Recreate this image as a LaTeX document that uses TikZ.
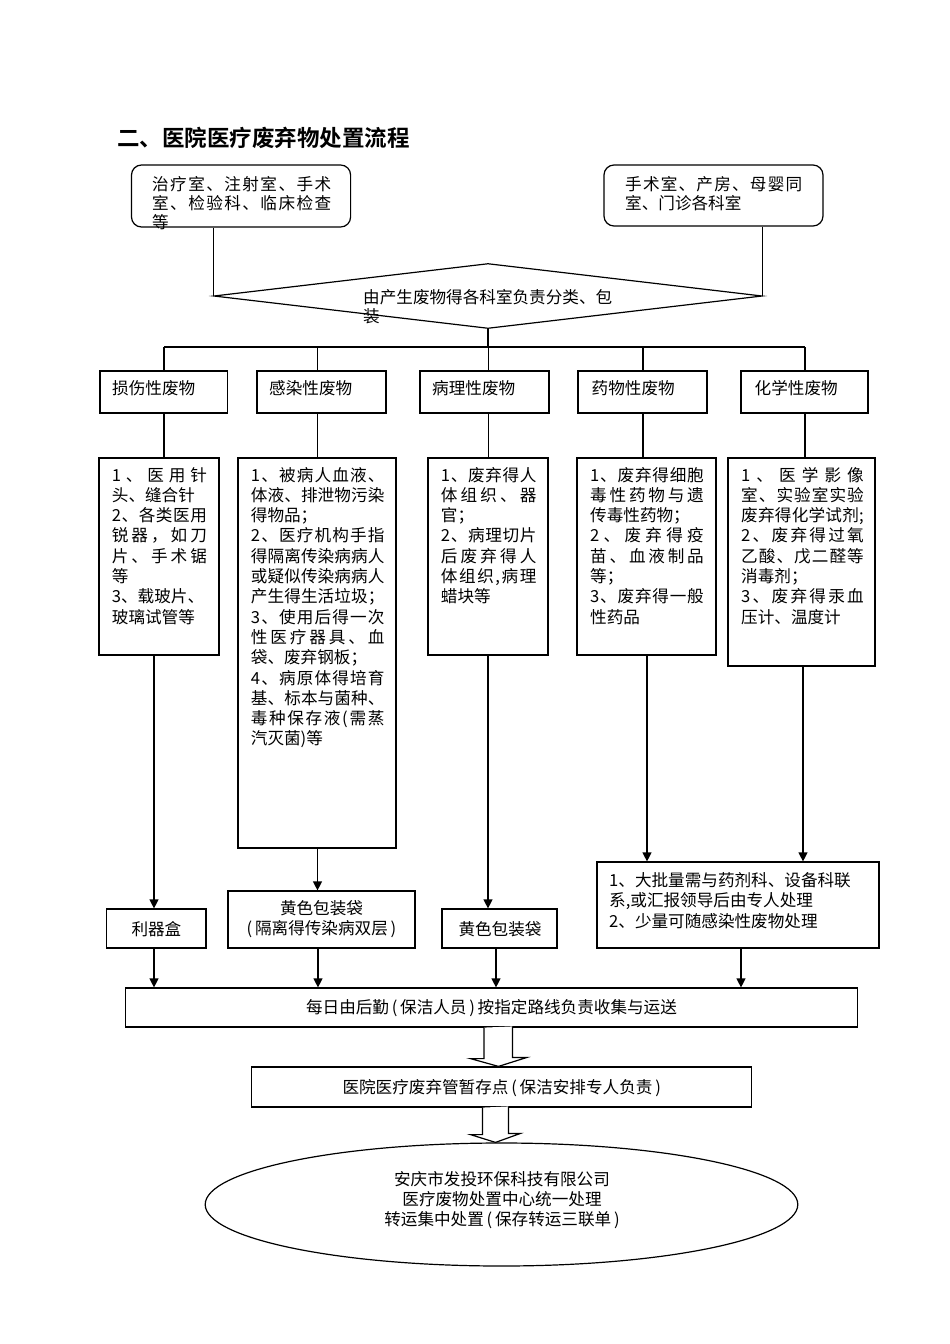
\documentclass[tikz,border=0pt]{standalone}
\usepackage{fontspec}
\setmainfont{Noto Sans CJK SC}
\newfontfamily\titlefont{Noto Sans CJK SC Bold}
\usetikzlibrary{arrows.meta,calc,fit,shapes.geometric}
\makeatletter
\def\spr@a#1#2{#1\ifx#2\@nil\expandafter\@gobble\else\hfil\expandafter\@firstofone\fi{\spr@a#2}}
\newcommand\spreadto[2]{\hbox to #1{\spr@a#2\@nil}}
\makeatother
\newcommand\txtlines[3][20.3pt]{\vtop{\baselineskip=#1\lineskiplimit=-\maxdimen\def\SP##1{\spreadto{#2}{##1}}\def\LF##1{\hbox{##1}}#3}}
\tikzset{
  ln/.style={line width=1.2pt},
  boxnode/.style={draw, line width=1.2pt, inner sep=0pt, rectangle},
  rbox/.style={boxnode, rounded corners=10pt},
  txt/.style={inner sep=0pt, anchor=base west, font=\fontsize{16.6}{20.3}\selectfont},
  ctxt/.style={inner sep=0pt, font=\fontsize{16.6}{20}\selectfont, align=center},
  arr/.style={line width=1.2pt, -{Triangle[length=9pt,width=9pt]}},
  hollow/.style={line width=1.2pt, fill=white},
}
\begin{document}
\begin{tikzpicture}[x=1pt,y=-1pt]
\useasboundingbox[fill=white] (0,0) rectangle (950,1344);

% title
\node[inner sep=0pt, anchor=base west, font=\titlefont\fontsize{22.5}{26}\selectfont] (title) at (117,146.5) {二、医院医疗废弃物处置流程};

% sources
\node[rbox, fit={(131.5,165) (350.6,227)}] (src1) {};
\node[txt] (src1t) at (152,190.5) {\txtlines[19pt]{179pt}{\SP{治疗室、注射室、手术}\SP{室、检验科、临床检查}\LF{等}}};
\node[rbox, fit={(604,165) (823,226)}] (src2) {};
\node[txt] (src2t) at (625,190.5) {\txtlines[19pt]{177pt}{\SP{手术室、产房、母婴同}\LF{室、门诊各科室}}};

% diamond
\node[diamond, draw, line width=1.2pt, inner sep=0pt, minimum width=548.5pt, minimum height=65pt] (dia) at (488,296) {};
\node[txt] (diat) at (363,303) {\txtlines[19.5pt]{250pt}{\LF{由产生废物得各科室负责分类、包}\LF{装}}};
\draw[ln] (dia.west |- src1.south) -- (dia.west);
\draw[ln] (dia.east |- src2.south) -- (dia.east);

% columns
\coordinate (xA) at (164,347);
\coordinate (xB) at (317.5,347);
\coordinate (xC) at (488.5,347);
\coordinate (xD) at (643,347);
\coordinate (xE) at (805,347);
\draw[ln] (dia.south) -- (dia.south |- xA);
\draw[ln] (xA) -- (xE);

% categories
\node[boxnode, fit={(100,371) (227.7,413)}] (c1) {};
\node[boxnode, fit={(257,371) (386,413)}] (c2) {};
\node[boxnode, fit={(420,371) (549,413)}] (c3) {};
\node[boxnode, fit={(578,371) (707,413)}] (c4) {};
\node[boxnode, fit={(741,371) (868,413)}] (c5) {};
\node[txt] (c1t) at (112,394) {损伤性废物};
\node[txt] (c2t) at (269,394) {感染性废物};
\node[txt] (c3t) at (432,394) {病理性废物};
\node[txt] (c4t) at (591.5,394) {药物性废物};
\node[txt] (c5t) at (754.5,394) {化学性废物};

% details
\node[boxnode, fit={(99,458) (219,655)}] (d1) {};
\node[boxnode, fit={(238,458) (396,848)}] (d2) {};
\node[boxnode, fit={(428,458) (548,655)}] (d3) {};
\node[boxnode, fit={(577,458) (716,655)}] (d4) {};
\node[boxnode, fit={(728,458) (875,666)}] (d5) {};

\node[txt] (d1t) at (111.7,481) {\txtlines{95pt}{\SP{1、医用针}\LF{头、缝合针}\SP{2、各类医用}\SP{锐器，如刀}\SP{片、手术锯}\LF{等}\LF{3、载玻片、}\LF{玻璃试管等}}};
\node[txt] (d2t) at (250.7,481) {\txtlines{133.5pt}{\SP{1、被病人血液、}\SP{体液、排泄物污染}\LF{得物品；}\SP{2、医疗机构手指}\SP{得隔离传染病病人}\SP{或疑似传染病病人}\SP{产生得生活垃圾；}\SP{3、使用后得一次}\SP{性医疗器具、血}\LF{袋、废弃钢板；}\SP{4、病原体得培育}\SP{基、标本与菌种、}\SP{毒种保存液(需蒸}\LF{汽灭菌)等}}};
\node[txt] (d3t) at (440.7,481) {\txtlines{95.5pt}{\SP{1、废弃得人}\SP{体组织、器}\LF{官；}\SP{2、病理切片}\SP{后废弃得人}\SP{体组织,病理}\LF{蜡块等}}};
\node[txt] (d4t) at (590,481) {\txtlines{113.6pt}{\SP{1、废弃得细胞}\SP{毒性药物与遗}\LF{传毒性药物；}\SP{2、废弃得疫}\SP{苗、血液制品}\LF{等；}\SP{3、废弃得一般}\LF{性药品}}};
\node[txt] (d5t) at (741,481) {\txtlines{122.6pt}{\SP{1、医学影像}\SP{室、实验室实验}\SP{废弃得化学试剂;}\SP{2、废弃得过氧}\SP{乙酸、戊二醛等}\LF{消毒剂；}\SP{3、废弃得汞血}\LF{压计、温度计}}};

\foreach \x/\c/\d in {xA/c1/d1, xB/c2/d2, xC/c3/d3, xD/c4/d4, xE/c5/d5}{
  \draw[ln] (\x) -- (\x |- \c.north);
  \draw[ln] (\x |- \c.south) -- (\x |- \d.north);
}

% containers
\node[boxnode, fit={(106.3,909) (206,948)}] (k1) {};
\node[ctxt] (k1t) at (156.4,929) {利器盒};
\node[boxnode, fit={(228,891) (415,948)}] (k2) {};
\node[ctxt] (k2t) at (321.5,919) {黄色包装袋\\(\,隔离得传染病双层\,)};
\node[boxnode, fit={(442,909) (557,948)}] (k3) {};
\node[ctxt] (k3t) at (500,929) {黄色包装袋};
\node[boxnode, fit={(597,862) (879,948)}] (rb) {};
\node[txt] (rbt) at (609,886) {\txtlines[20.5pt]{250pt}{\LF{1、大批量需与药剂科、设备科联}\LF{系,或汇报领导后由专人处理}\LF{2、少量可随感染性废物处理}}};

\coordinate (yA) at (154,0);
\coordinate (yB) at (317.5,0);
\coordinate (yC) at (488,0);
\coordinate (yD) at (647,0);
\coordinate (yE) at (803,0);
\draw[arr] (yA |- d1.south) -- (yA |- k1.north);
\draw[arr] (yB |- d2.south) -- (yB |- k2.north);
\draw[arr] (yC |- d3.south) -- (yC |- k3.north);
\draw[arr] (yD |- d4.south) -- (yD |- rb.north);
\draw[arr] (yE |- d5.south) -- (yE |- rb.north);

% collection
\node[boxnode, fit={(125.7,988) (857.6,1027)}] (big) {};
\node[ctxt] (bigt) at (491.5,1008) {每日由后勤\,(\,保洁人员\,)\,按指定路线负责收集与运送};
\coordinate (zA) at (154,0);
\coordinate (zB) at (318,0);
\coordinate (zC) at (496,0);
\coordinate (zD) at (741,0);
\draw[arr] (zA |- k1.south) -- (zA |- big.north);
\draw[arr] (zB |- k2.south) -- (zB |- big.north);
\draw[arr] (zC |- k3.south) -- (zC |- big.north);
\draw[arr] (zD |- rb.south) -- (zD |- big.north);

% storage
\node[boxnode, fit={(251.4,1067) (751.4,1107)}] (st) {};
\node[ctxt] (stt) at (501.7,1088) {医院医疗废弃管暂存点\,(\,保洁安排专人负责\,)};

% final
\node[ellipse, draw, line width=1.2pt, inner sep=0pt, minimum width=592.6pt, minimum height=123pt] (ell) at (501.5,1204.5) {};
\node[ctxt] (ellt) at (502,1200) {安庆市发投环保科技有限公司\\医疗废物处置中心统一处理\\转运集中处置\,(\,保存转运三联单\,)};

% hollow arrows
\coordinate (axA) at (498.5,0);
\draw[hollow] ($(axA |- big.south)+(-14.5,0)$) -- ++(0,31) -- ++(-13.5,0) -- (axA |- st.north) -- ++(28.5,-9) -- ++(-14.5,0) -- ++(0,-31);
\coordinate (axB) at (495.5,0);
\draw[hollow] ($(axB |- st.south)+(-13,0)$) -- ++(0,27) -- ++(-12,0) -- (axB |- ell.north) -- ++(25,-9) -- ++(-12,0) -- ++(0,-27);
\end{tikzpicture}
\end{document}
